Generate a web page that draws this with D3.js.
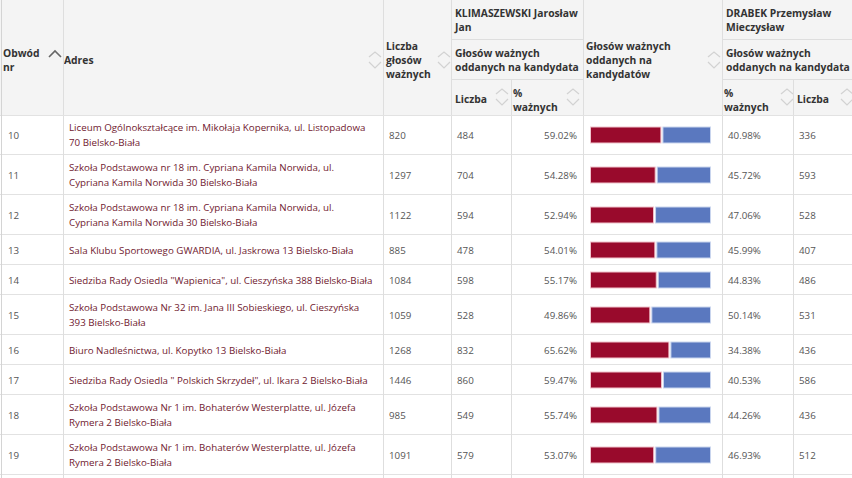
<!DOCTYPE html>
<html><head><meta charset="utf-8">
<script src="https://cdn.jsdelivr.net/npm/d3@7"></script>
<style>
html,body{margin:0;padding:0;background:#fff;}
svg{display:block;font-family:"Open Sans",sans-serif;}
</style></head>
<body>
<script>
// ---- data ----
const obwody = [10, 11, 12, 13, 14, 15, 16, 17, 18, 19];
const adresy = [
  "Liceum Ogólnokształcące im. Mikołaja Kopernika, ul. Listopadowa\n70 Bielsko-Biała",
  "Szkoła Podstawowa nr 18 im. Cypriana Kamila Norwida, ul.\nCypriana Kamila Norwida 30 Bielsko-Biała",
  "Szkoła Podstawowa nr 18 im. Cypriana Kamila Norwida, ul.\nCypriana Kamila Norwida 30 Bielsko-Biała",
  "Sala Klubu Sportowego GWARDIA, ul. Jaskrowa 13 Bielsko-Biała",
  "Siedziba Rady Osiedla \"Wapienica\", ul. Cieszyńska 388 Bielsko-Biała",
  "Szkoła Podstawowa Nr 32 im. Jana III Sobieskiego, ul. Cieszyńska\n393 Bielsko-Biała",
  "Biuro Nadleśnictwa, ul. Kopytko 13 Bielsko-Biała",
  "Siedziba Rady Osiedla \" Polskich Skrzydeł\", ul. Ikara 2 Bielsko-Biała",
  "Szkoła Podstawowa Nr 1 im. Bohaterów Westerplatte, ul. Józefa\nRymera 2 Bielsko-Biała",
  "Szkoła Podstawowa Nr 1 im. Bohaterów Westerplatte, ul. Józefa\nRymera 2 Bielsko-Biała"
];
const liczbaWaznych = [820, 1297, 1122, 885, 1084, 1059, 1268, 1446, 985, 1091];
const klimLiczba = [484, 704, 594, 478, 598, 528, 832, 860, 549, 579];
const klimProc = [59.02, 54.28, 52.94, 54.01, 55.17, 49.86, 65.62, 59.47, 55.74, 53.07];
const drabProc = [40.98, 45.72, 47.06, 45.99, 44.83, 50.14, 34.38, 40.53, 44.26, 46.93];
const drabLiczba = [336, 593, 528, 407, 486, 531, 436, 586, 436, 512];
const kandydaci = ["KLIMASZEWSKI Jarosław\nJan", "DRABEK Przemysław\nMieczysław"];
const naglowki = {
  obwod: "Obwód\nnr",
  adres: "Adres",
  liczba: "Liczba\ngłosów\nważnych",
  glosowKand: "Głosów ważnych\noddanych na kandydata",
  glosowWszyst: "Głosów ważnych\noddanych na\nkandydatów",
  liczbaSub: "Liczba",
  procSub: "%\nważnych"
};

// ---- layout ----
const W = 852, H = 478;
const cols = [0, 63, 383, 451, 511, 583, 722, 793, 852];
const headH = 115;
const border = "#dedede";
const svg = d3.select("body").append("svg").attr("width", W).attr("height", H);
svg.append("rect").attr("width", W).attr("height", H).attr("fill", "#fff");

// header background
svg.append("rect").attr("x", 0).attr("y", 0).attr("width", W).attr("height", headH).attr("fill", "#f4f4f4");

function lines(g, x, yc, txt, opts) {
  const parts = txt.split("\n");
  const lh = opts.lh || 14;
  const t = g.append("text").attr("x", x)
    .attr("font-size", opts.size || 10)
    .attr("font-weight", opts.weight || 400)
    .attr("fill", opts.color || "#333")
    .attr("text-anchor", opts.anchor || "start");
  parts.forEach((p, i) => {
    t.append("tspan").attr("x", x)
      .attr("y", yc + (i - (parts.length - 1) / 2) * lh + 3.5)
      .text(p);
  });
  return t;
}
function chev(g, cx, cy) {
  g.append("path").attr("d", `M${cx-6},${cy-3}L${cx},${cy-8}L${cx+6},${cy-3}`)
    .attr("fill", "none").attr("stroke", "#d2d2d2").attr("stroke-width", 1.2);
  g.append("path").attr("d", `M${cx-6},${cy+2}L${cx},${cy+8}L${cx+6},${cy+2}`)
    .attr("fill", "none").attr("stroke", "#d2d2d2").attr("stroke-width", 1.2);
}

const hg = svg.append("g");
const hb = {size: 10.3, weight: 700, color: "#333", lh: 14};
lines(hg, 3, 60, naglowki.obwod, hb);
hg.append("path").attr("d", "M49,57L55,51L61,57").attr("fill", "none").attr("stroke", "#666").attr("stroke-width", 1.6);
lines(hg, 64, 60, naglowki.adres, hb);
chev(hg, 375, 60);
lines(hg, 386, 60, naglowki.liczba, hb);
chev(hg, 444, 60);
// candidate groups
[[451, 583], [722, 852]].forEach((span, k) => {
  lines(hg, span[0] + 4, 20, kandydaci[k], hb);
  lines(hg, span[0] + 4, 60, naglowki.glosowKand, hb);
  hg.append("line").attr("x1", span[0]).attr("x2", span[1]).attr("y1", 39.5).attr("y2", 39.5).attr("stroke", border);
  hg.append("line").attr("x1", span[0]).attr("x2", span[1]).attr("y1", 79.5).attr("y2", 79.5).attr("stroke", border);
});
lines(hg, 455, 99, naglowki.liczbaSub, hb); chev(hg, 502, 97);
lines(hg, 513, 100, naglowki.procSub, hb); chev(hg, 573, 97);
lines(hg, 586, 60, naglowki.glosowWszyst, hb); chev(hg, 714, 60);
lines(hg, 724, 100, naglowki.procSub, hb); chev(hg, 787, 97);
lines(hg, 797, 99, naglowki.liczbaSub, hb); chev(hg, 847, 97);

// header vertical dividers
[63, 383, 451, 583, 722].forEach(x => hg.append("line").attr("x1", x + .5).attr("x2", x + .5).attr("y1", 0).attr("y2", headH).attr("stroke", border));
[511, 793].forEach(x => hg.append("line").attr("x1", x + .5).attr("x2", x + .5).attr("y1", 79).attr("y2", headH).attr("stroke", border));

// ---- body ----
const rows = obwody.map((o, i) => ({
  obwod: o, adres: adresy[i], liczba: liczbaWaznych[i],
  kl: klimLiczba[i], kp: klimProc[i], dp: drabProc[i], dl: drabLiczba[i]
}));
let yAcc = headH;
rows.forEach(r => {
  const n = r.adres.split("\n").length;
  r.h = Math.max(30, n * 15 + 10);
  r.y = yAcc; yAcc += r.h;
});
const bx = d3.scaleLinear().domain([0, 100]).range([590, 711]);
const barH = 17;
const red = "#990a2c", blue = "#5a78bf";

const bg = svg.append("g");
const rg = bg.selectAll("g.row").data(rows).join("g").attr("class", "row")
  .attr("transform", d => `translate(0,${d.y})`);
const numC = "#555";
const fs = 9.75;
const bs = {size: fs, color: numC, lh: 15};
rg.each(function(d) {
  const g = d3.select(this);
  const c = d.h / 2;
  lines(g, 8, c, String(d.obwod), bs);
  lines(g, 69, c, d.adres, {size: fs, color: "#70202f", lh: 15});
  lines(g, 389, c, String(d.liczba), bs);
  lines(g, 457, c, String(d.kl), bs);
  lines(g, 577, c, d.kp.toFixed(2) + "%", Object.assign({}, bs, {anchor: "end"}));
  lines(g, 728, c, d.dp.toFixed(2) + "%", bs);
  lines(g, 799, c, String(d.dl), bs);
  const y0 = c - barH / 2;
  g.append("rect").attr("x", bx(0) + .5).attr("y", y0 + .5)
    .attr("width", bx(d.kp) - bx(0) - 1).attr("height", barH - 1)
    .attr("fill", red).attr("stroke", "#f0c4cc").attr("stroke-width", 1);
  g.append("rect").attr("x", bx(d.kp) + 1.5).attr("y", y0 + .5)
    .attr("width", bx(100) - bx(d.kp) - 2).attr("height", barH - 1)
    .attr("fill", blue).attr("stroke", "#c9d5ee").attr("stroke-width", 1);
  g.append("line").attr("x1", 0).attr("x2", W).attr("y1", d.h - .5).attr("y2", d.h - .5).attr("stroke", "#e2e2e2");
});
// body vertical dividers
cols.slice(1, -1).forEach(x => bg.append("line").attr("x1", x + .5).attr("x2", x + .5).attr("y1", headH).attr("y2", H).attr("stroke", border));
// header bottom & left border
svg.append("line").attr("x1", 0).attr("x2", W).attr("y1", headH + .5).attr("y2", headH + .5).attr("stroke", "#e2e2e2");
svg.append("line").attr("x1", 1.5).attr("x2", 1.5).attr("y1", 0).attr("y2", H).attr("stroke", "#d4d4d4");
</script>
</body></html>
